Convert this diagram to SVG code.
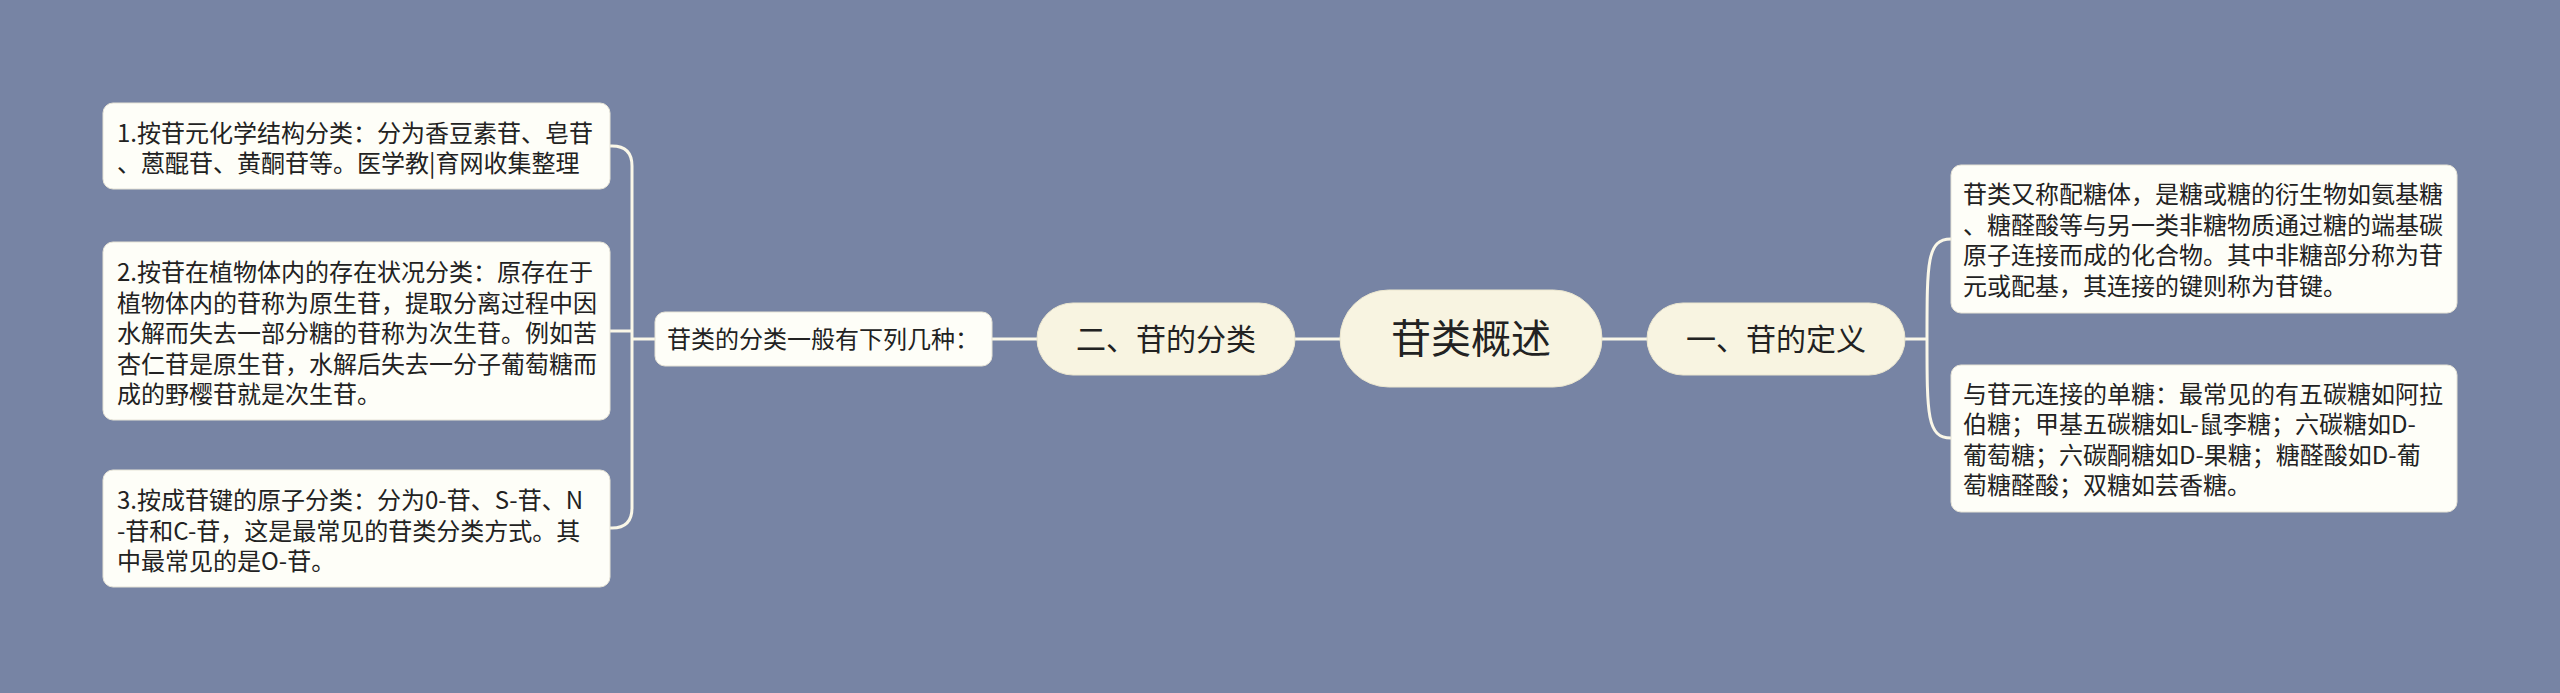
<svg xmlns="http://www.w3.org/2000/svg" width="2560" height="693" viewBox="0 0 2560 693">
<style>
.leaf{fill:#fefef8;stroke:#e6e3d6;stroke-width:1}
.main{fill:#f8f4e1;stroke:#ebe6cf;stroke-width:1}
.t{font-family:"Microsoft YaHei","Noto Sans CJK SC","Noto Sans",sans-serif;fill:#222222}
.s{font-size:24px}
.m{font-size:30px;text-anchor:middle}
.r{font-size:40px;text-anchor:middle}
.c{fill:none;stroke:#faf7e8;stroke-width:3}
</style>
<rect x="0" y="0" width="2560" height="693" fill="#7784a4"/>
<g id="connectors">
<path class="c" d="M610,146 L612,146 Q632,146 632,166 L632,508 Q632,528 612,528 L610,528"/>
<path class="c" d="M610,331 L632,331"/>
<path class="c" d="M632,339 L655,339"/>
<path class="c" d="M992,339 L1037,339"/>
<path class="c" d="M1295,339 L1340,339"/>
<path class="c" d="M1602,339 L1647,339"/>
<path class="c" d="M1905,339 L1927,339"/>
<path class="c" d="M1927,339 C1927,262 1927,239 1951,239"/>
<path class="c" d="M1927,339 C1927,415 1927,438 1951,438"/>
</g>
<g id="root">
<rect class="main" x="1340" y="290" width="262" height="97" rx="48.5"/>
<text class="t r" x="1471" y="353">苷类概述</text>
</g>
<g id="branch-classification">
<rect class="main" x="1037" y="303" width="258" height="72" rx="36"/>
<text class="t m" x="1166" y="350">二、苷的分类</text>
</g>
<g id="branch-definition">
<rect class="main" x="1647" y="303" width="258" height="72" rx="36"/>
<text class="t m" x="1776" y="350">一、苷的定义</text>
</g>
<g id="label-classification">
<rect class="leaf" x="655" y="312" width="337" height="54" rx="10"/>
<text class="t s" x="667" y="348">苷类的分类一般有下列几种：</text>
</g>
<g id="leaf-1">
<rect class="leaf" x="103" y="103" width="507" height="86" rx="10"/>
<text class="t s" x="117" y="142">1.按苷元化学结构分类：分为香豆素苷、皂苷</text>
<text class="t s" x="117" y="172">、蒽醌苷、黄酮苷等。医学教|育网收集整理</text>
</g>
<g id="leaf-2">
<rect class="leaf" x="103" y="242" width="507" height="178" rx="10"/>
<text class="t s" x="117" y="281">2.按苷在植物体内的存在状况分类：原存在于</text>
<text class="t s" x="117" y="311.5">植物体内的苷称为原生苷，提取分离过程中因</text>
<text class="t s" x="117" y="342">水解而失去一部分糖的苷称为次生苷。例如苦</text>
<text class="t s" x="117" y="372.5">杏仁苷是原生苷，水解后失去一分子葡萄糖而</text>
<text class="t s" x="117" y="403">成的野樱苷就是次生苷。</text>
</g>
<g id="leaf-3">
<rect class="leaf" x="103" y="470" width="507" height="117" rx="10"/>
<text class="t s" x="117" y="509">3.按成苷键的原子分类：分为0-苷、S-苷、N</text>
<text class="t s" x="117" y="539.5">-苷和C-苷，这是最常见的苷类分类方式。其</text>
<text class="t s" x="117" y="570">中最常见的是O-苷。</text>
</g>
<g id="leaf-4">
<rect class="leaf" x="1951" y="165" width="506" height="148" rx="10"/>
<text class="t s" x="1963" y="203">苷类又称配糖体，是糖或糖的衍生物如氨基糖</text>
<text class="t s" x="1963" y="233.5">、糖醛酸等与另一类非糖物质通过糖的端基碳</text>
<text class="t s" x="1963" y="264">原子连接而成的化合物。其中非糖部分称为苷</text>
<text class="t s" x="1963" y="294.5">元或配基，其连接的键则称为苷键。</text>
</g>
<g id="leaf-5">
<rect class="leaf" x="1951" y="365" width="506" height="147" rx="10"/>
<text class="t s" x="1963" y="402.5">与苷元连接的单糖：最常见的有五碳糖如阿拉</text>
<text class="t s" x="1963" y="433">伯糖；甲基五碳糖如L-鼠李糖；六碳糖如D-</text>
<text class="t s" x="1963" y="463.5">葡萄糖；六碳酮糖如D-果糖；糖醛酸如D-葡</text>
<text class="t s" x="1963" y="494">萄糖醛酸；双糖如芸香糖。</text>
</g>
</svg>
